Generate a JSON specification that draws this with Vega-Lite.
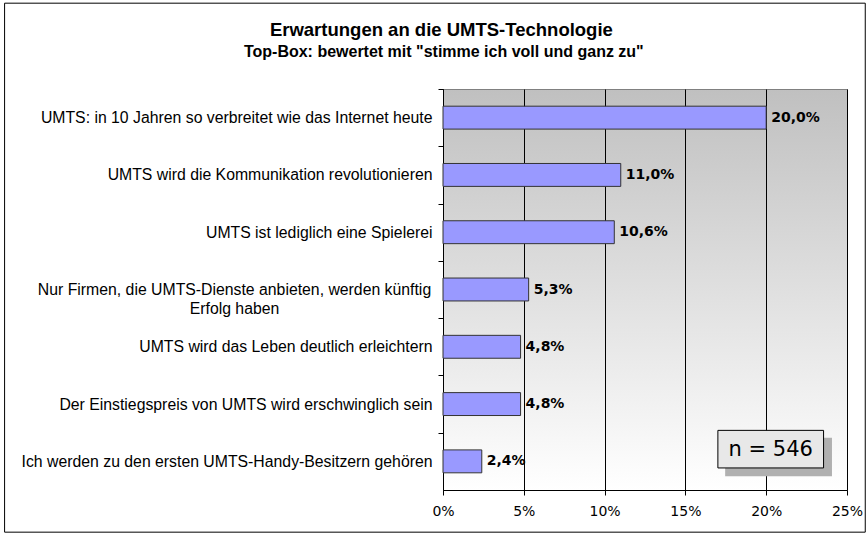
{
  "$schema": "https://vega.github.io/schema/vega-lite/v6.json",
  "width": 404,
  "height": 401,
  "autosize": {"type": "none"},
  "padding": {"left": 443, "top": 89, "right": 21, "bottom": 46},
  "background": "white",
  "layer": [
    {
      "data": {
        "values": [
          {"aussage": "UMTS: in 10 Jahren so verbreitet wie das Internet heute", "anteil": 0.200},
          {"aussage": "UMTS wird die Kommunikation revolutionieren", "anteil": 0.110},
          {"aussage": "UMTS ist lediglich eine Spielerei", "anteil": 0.106},
          {"aussage": "Nur Firmen, die UMTS-Dienste anbieten, werden künftig Erfolg haben", "anteil": 0.053},
          {"aussage": "UMTS wird das Leben deutlich erleichtern", "anteil": 0.048},
          {"aussage": "Der Einstiegspreis von UMTS wird erschwinglich sein", "anteil": 0.048},
          {"aussage": "Ich werden zu den ersten UMTS-Handy-Besitzern gehören", "anteil": 0.024}
        ]
      },
      "encoding": {
        "y": {
          "field": "aussage", "type": "nominal", "sort": null,
          "scale": {"paddingInner": 0.6, "paddingOuter": 0.3},
          "axis": {
            "title": null,
            "ticks": true,
            "tickSize": 5,
            "tickColor": "#000000",
            "tickOffset": -28.64,
            "labelOffset": 28.64,
            "domainColor": "#000000",
            "labelFont": "Liberation Sans",
            "labelFontSize": 15.8,
            "labelColor": "#000000",
            "labelPadding": {"condition": {"test": "indexof(datum.value, 'künftig') > 0", "value": 204}, "value": 6},
            "labelAlign": {"condition": {"test": "indexof(datum.value, 'künftig') > 0", "value": "center"}, "value": "right"},
            "labelLimit": 600,
            "labelLineHeight": 19,
            "labelExpr": "indexof(datum.value, 'künftig') > 0 ? ['Nur Firmen, die UMTS-Dienste anbieten, werden künftig', 'Erfolg haben'] : datum.value"
          }
        },
        "x": {
          "field": "anteil", "type": "quantitative",
          "scale": {"domain": [0, 0.25], "nice": false, "zero": true},
          "axis": {
            "values": [0, 0.05, 0.1, 0.15, 0.2, 0.25],
            "format": ".0%",
            "title": null,
            "grid": true,
            "gridColor": "#000000",
            "gridWidth": 1,
            "gridOpacity": 1,
            "domainColor": "#000000",
            "tickColor": "#000000",
            "tickSize": 5,
            "labelFont": "DejaVu Sans",
            "labelFontSize": 14,
            "labelColor": "#000000",
            "labelPadding": 9,
            "labelFlush": false
          }
        }
      },
      "layer": [
        {"mark": {"type": "bar", "fill": "#9999ff", "stroke": "#333333", "strokeWidth": 1}},
        {
          "mark": {"type": "text", "align": "left", "baseline": "middle", "dx": 5, "font": "DejaVu Sans", "fontSize": 14, "fontWeight": "bold", "color": "#000000",
            "text": {"expr": "replace(format(datum.anteil, '.1%'), '.', ',')"}}
        }
      ]
    },
    {
      "data": {"values": [{}]},
      "mark": {"type": "rect", "fill": "#b0b0b0"},
      "encoding": {
        "x": {"datum": 0.1746, "type": "quantitative", "scale": {"domain": [0, 0.25], "nice": false}},
        "x2": {"datum": 0.2407},
        "y": {"datum": 6.087, "type": "quantitative", "scale": {"domain": [0, 7], "reverse": true, "nice": false, "zero": false}, "axis": null},
        "y2": {"datum": 6.762}
      }
    },
    {
      "data": {"values": [{}]},
      "mark": {"type": "rect", "fill": "#e8e8e8", "stroke": "#000000", "strokeWidth": 1},
      "encoding": {
        "x": {"datum": 0.1701, "type": "quantitative", "scale": {"domain": [0, 0.25], "nice": false}},
        "x2": {"datum": 0.2355},
        "y": {"datum": 5.959, "type": "quantitative", "scale": {"domain": [0, 7], "reverse": true, "nice": false, "zero": false}, "axis": null},
        "y2": {"datum": 6.615}
      }
    },
    {
      "data": {"values": [{"label": "n = 546"}]},
      "mark": {"type": "text", "align": "center", "baseline": "middle", "font": "DejaVu Sans", "fontSize": 21, "color": "#000000"},
      "encoding": {
        "x": {"datum": 0.2028, "type": "quantitative", "scale": {"domain": [0, 0.25], "nice": false}},
        "y": {"datum": 6.296, "type": "quantitative", "scale": {"domain": [0, 7], "reverse": true, "nice": false, "zero": false}, "axis": null},
        "text": {"field": "label"}
      }
    },
    {
      "data": {"values": [{"label": "Erwartungen an die UMTS-Technologie"}]},
      "mark": {"type": "text", "align": "center", "baseline": "alphabetic", "font": "Liberation Sans", "fontSize": 18.5, "fontWeight": "bold", "color": "#000000"},
      "encoding": {
        "x": {"datum": -0.001, "type": "quantitative", "scale": {"domain": [0, 0.25], "nice": false}},
        "y": {"datum": -0.918, "type": "quantitative", "scale": {"domain": [0, 7], "reverse": true, "nice": false, "zero": false}, "axis": null},
        "text": {"field": "label"}
      }
    },
    {
      "data": {"values": [{"label": "Top-Box: bewertet mit \"stimme ich voll und ganz zu\""}]},
      "mark": {"type": "text", "align": "center", "baseline": "alphabetic", "font": "Liberation Sans", "fontSize": 16, "fontWeight": "bold", "color": "#000000"},
      "encoding": {
        "x": {"datum": 0.0005, "type": "quantitative", "scale": {"domain": [0, 0.25], "nice": false}},
        "y": {"datum": -0.5586, "type": "quantitative", "scale": {"domain": [0, 7], "reverse": true, "nice": false, "zero": false}, "axis": null},
        "text": {"field": "label"}
      }
    },
    {
      "data": {"values": [{}]},
      "mark": {"type": "rect", "filled": false, "stroke": "#000000", "strokeWidth": 1},
      "encoding": {
        "x": {"datum": -0.2713, "type": "quantitative", "scale": {"domain": [0, 0.25], "nice": false}},
        "x2": {"datum": 0.2613},
        "y": {"datum": -1.498, "type": "quantitative", "scale": {"domain": [0, 7], "reverse": true, "nice": false, "zero": false}, "axis": null},
        "y2": {"datum": 7.736}
      }
    }
  ],
  "resolve": {"scale": {"y": "independent"}, "axis": {"y": "independent"}},
  "config": {
    "view": {
      "stroke": "#808080",
      "strokeWidth": 1,
      "fill": {
        "gradient": "linear", "x1": 0, "y1": 0, "x2": 0, "y2": 1,
        "stops": [{"offset": 0, "color": "#c0c0c0"}, {"offset": 1, "color": "#ffffff"}]
      }
    }
  }
}
